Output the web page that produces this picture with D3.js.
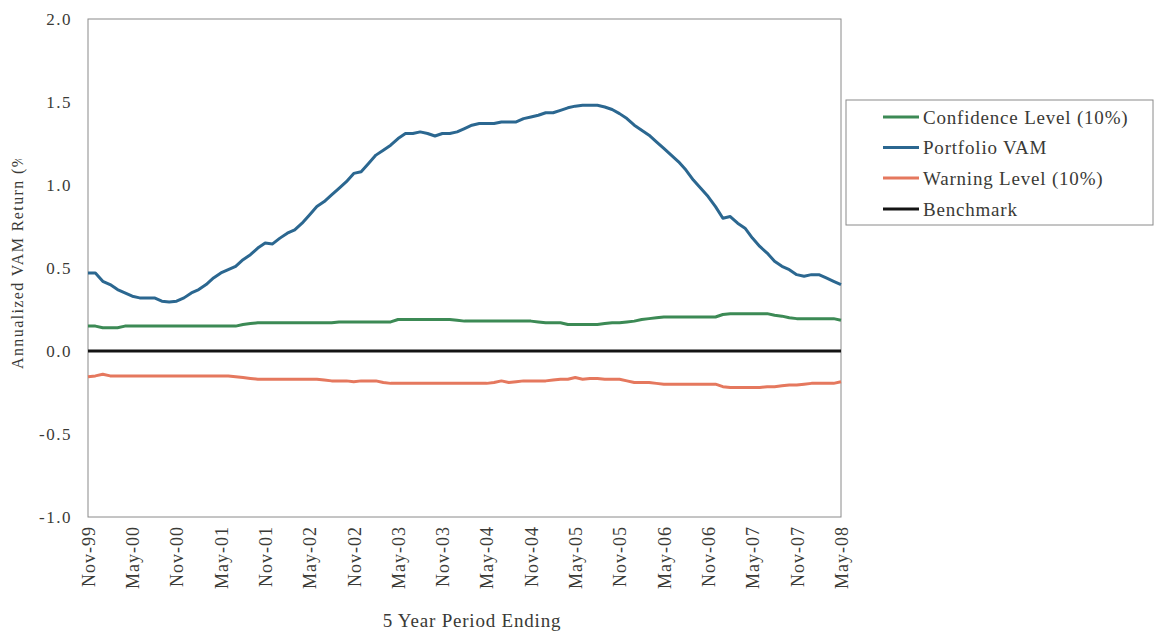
<!DOCTYPE html>
<html>
<head>
<meta charset="utf-8">
<script src="https://cdn.jsdelivr.net/npm/d3@7"></script>
<style>
  html, body { margin: 0; padding: 0; background: #fff; }
  svg { display: block; }
  svg text { font-family: "Liberation Serif", "Tinos", "Times New Roman", "DejaVu Serif", serif !important; fill: #3a3a36; }
</style>
</head>
<body>
<svg id="chart" width="1155" height="631"></svg>
<script>
// ---- Data (monthly, Nov-99 .. May-08) ----
const nMonths = 103;

const portfolioVAM = [
  0.47, 0.47, 0.42, 0.40, 0.37, 0.35, 0.33, 0.32, 0.32, 0.32,
  0.30, 0.295, 0.30, 0.32, 0.35, 0.37, 0.40, 0.44, 0.47, 0.49,
  0.51, 0.55, 0.58, 0.62, 0.65, 0.645, 0.68, 0.71, 0.73, 0.77,
  0.82, 0.87, 0.90, 0.94, 0.98, 1.02, 1.07, 1.08, 1.13, 1.18,
  1.21, 1.24, 1.28, 1.31, 1.31, 1.32, 1.31, 1.295, 1.31, 1.31,
  1.32, 1.34, 1.36, 1.37, 1.37, 1.37, 1.38, 1.38, 1.38, 1.40,
  1.41, 1.42, 1.435, 1.435, 1.45, 1.465, 1.475, 1.48, 1.48, 1.48,
  1.47, 1.455, 1.43, 1.40, 1.36, 1.33, 1.30, 1.26, 1.22, 1.18,
  1.14, 1.09, 1.03, 0.98, 0.93, 0.87, 0.80, 0.81, 0.77, 0.74,
  0.68, 0.63, 0.59, 0.54, 0.51, 0.49, 0.46, 0.45, 0.46, 0.46,
  0.44, 0.42, 0.40
];

const confidenceLevel = [
  0.15, 0.15, 0.14, 0.14, 0.14, 0.15, 0.15, 0.15, 0.15, 0.15,
  0.15, 0.15, 0.15, 0.15, 0.15, 0.15, 0.15, 0.15, 0.15, 0.15,
  0.15, 0.16, 0.165, 0.17, 0.17, 0.17, 0.17, 0.17, 0.17, 0.17,
  0.17, 0.17, 0.17, 0.17, 0.175, 0.175, 0.175, 0.175, 0.175, 0.175,
  0.175, 0.175, 0.19, 0.19, 0.19, 0.19, 0.19, 0.19, 0.19, 0.19,
  0.185, 0.18, 0.18, 0.18, 0.18, 0.18, 0.18, 0.18, 0.18, 0.18,
  0.18, 0.175, 0.17, 0.17, 0.17, 0.16, 0.16, 0.16, 0.16, 0.16,
  0.165, 0.17, 0.17, 0.175, 0.18, 0.19, 0.195, 0.20, 0.205, 0.205,
  0.205, 0.205, 0.205, 0.205, 0.205, 0.205, 0.22, 0.225, 0.225, 0.225,
  0.225, 0.225, 0.225, 0.215, 0.21, 0.20, 0.195, 0.195, 0.195, 0.195,
  0.195, 0.195, 0.185
];

const warningLevel = [
  -0.155, -0.15, -0.14, -0.15, -0.15, -0.15, -0.15, -0.15, -0.15, -0.15,
  -0.15, -0.15, -0.15, -0.15, -0.15, -0.15, -0.15, -0.15, -0.15, -0.15,
  -0.155, -0.16, -0.165, -0.17, -0.17, -0.17, -0.17, -0.17, -0.17, -0.17,
  -0.17, -0.17, -0.175, -0.18, -0.18, -0.18, -0.185, -0.18, -0.18, -0.18,
  -0.19, -0.195, -0.195, -0.195, -0.195, -0.195, -0.195, -0.195, -0.195, -0.195,
  -0.195, -0.195, -0.195, -0.195, -0.195, -0.19, -0.18, -0.19, -0.185, -0.18,
  -0.18, -0.18, -0.18, -0.175, -0.17, -0.17, -0.16, -0.17, -0.165, -0.165,
  -0.17, -0.17, -0.17, -0.18, -0.19, -0.19, -0.19, -0.195, -0.20, -0.20,
  -0.20, -0.20, -0.20, -0.20, -0.20, -0.20, -0.215, -0.22, -0.22, -0.22,
  -0.22, -0.22, -0.215, -0.215, -0.21, -0.205, -0.205, -0.20, -0.195, -0.195,
  -0.195, -0.195, -0.185
];

const benchmark = new Array(nMonths).fill(0);

const yTicks = [-1.0, -0.5, 0.0, 0.5, 1.0, 1.5, 2.0];
const yTickLabels = ["-1.0", "-0.5", "0.0", "0.5", "1.0", "1.5", "2.0"];
const xTickLabels = ["Nov-99","May-00","Nov-00","May-01","Nov-01","May-02","Nov-02","May-03","Nov-03",
                     "May-04","Nov-04","May-05","Nov-05","May-06","Nov-06","May-07","Nov-07","May-08"];

const seriesNames = ["Confidence Level (10%)", "Portfolio VAM", "Warning Level (10%)", "Benchmark"];
const seriesColors = ["#3c8a55", "#2b6790", "#e5785e", "#141414"];
const seriesData = [confidenceLevel, portfolioVAM, warningLevel, benchmark];

const FONT = "'Liberation Serif', 'Tinos', 'Times New Roman', 'DejaVu Serif', serif";

// ---- Layout ----
const svg = d3.select("#chart");
const plot = { left: 88, right: 841, top: 19, bottom: 517 };

const x = d3.scaleLinear().domain([0, nMonths - 1]).range([plot.left, plot.right]);
const y = d3.scaleLinear().domain([-1, 2]).range([plot.bottom, plot.top]);

// plot frame
svg.append("rect")
  .attr("x", plot.left).attr("y", plot.top)
  .attr("width", plot.right - plot.left).attr("height", plot.bottom - plot.top)
  .attr("fill", "none").attr("stroke", "#8a8a8a").attr("stroke-width", 1);

// y axis labels
const yAxis = d3.axisLeft(y).tickValues(yTicks).tickFormat((d, i) => yTickLabels[i]).tickSize(0).tickPadding(16);
const gy = svg.append("g").attr("transform", `translate(${plot.left},0)`).call(yAxis)
  .attr("font-family", FONT);
gy.select(".domain").remove();
gy.selectAll("text").style("font-size", "17px").style("letter-spacing", "1.5px")
  .attr("fill", "#3a3a36");

// x axis labels (every 6 months)
const tickIdx = xTickLabels.map((_, i) => i * 6);
const xAxis = d3.axisBottom(x).tickValues(tickIdx).tickFormat((d, i) => xTickLabels[i]).tickSize(0);
const gx = svg.append("g").attr("transform", `translate(0,${plot.bottom})`).call(xAxis)
  .attr("font-family", FONT);
gx.select(".domain").remove();
gx.selectAll("text")
  .style("font-size", "18px").style("letter-spacing", "1px")
  .attr("fill", "#3a3a36")
  .attr("text-anchor", "end")
  .attr("dy", "0.35em")
  .attr("transform", "translate(0,9) rotate(-90)")
  .attr("x", 0).attr("y", 0);

// lines
const line = d3.line().x((d, i) => x(i)).y(d => y(d));
const drawOrder = [3, 0, 2, 1];
drawOrder.forEach(k => {
  svg.append("path")
    .datum(seriesData[k])
    .attr("fill", "none")
    .attr("stroke", seriesColors[k])
    .attr("stroke-width", 3)
    .attr("stroke-linejoin", "round")
    .attr("d", line);
});

// y axis title (clipped at the top as in the original)
svg.append("clipPath").attr("id", "yclip")
  .append("rect").attr("x", 0).attr("y", 159).attr("width", 40).attr("height", 230);
svg.append("g").attr("clip-path", "url(#yclip)")
  .append("text")
  .attr("transform", "translate(23,369) rotate(-90)")
  .attr("text-anchor", "start")
  .style("font-size", "16px").style("letter-spacing", "1.4px")
  .text("Annualized VAM Return (%)");

// x axis title
svg.append("text")
  .attr("x", 472).attr("y", 627)
  .attr("text-anchor", "middle")
  .style("font-size", "19px").style("letter-spacing", "0.8px")
  .text("5 Year Period Ending");

// legend
const lg = svg.append("g");
lg.append("rect").attr("x", 846).attr("y", 100).attr("width", 307).attr("height", 125)
  .attr("fill", "#fff").attr("stroke", "#8a8a8a").attr("stroke-width", 1);
const rowY = [117, 147.5, 178, 209];
seriesNames.forEach((name, i) => {
  lg.append("line").attr("x1", 883).attr("x2", 919).attr("y1", rowY[i]).attr("y2", rowY[i])
    .attr("stroke", seriesColors[i]).attr("stroke-width", 3);
  lg.append("text").attr("x", 923).attr("y", rowY[i]).attr("dy", "0.35em")
    .style("font-size", "19px").style("letter-spacing", "0.8px")
    .text(name);
});
</script>
</body>
</html>
